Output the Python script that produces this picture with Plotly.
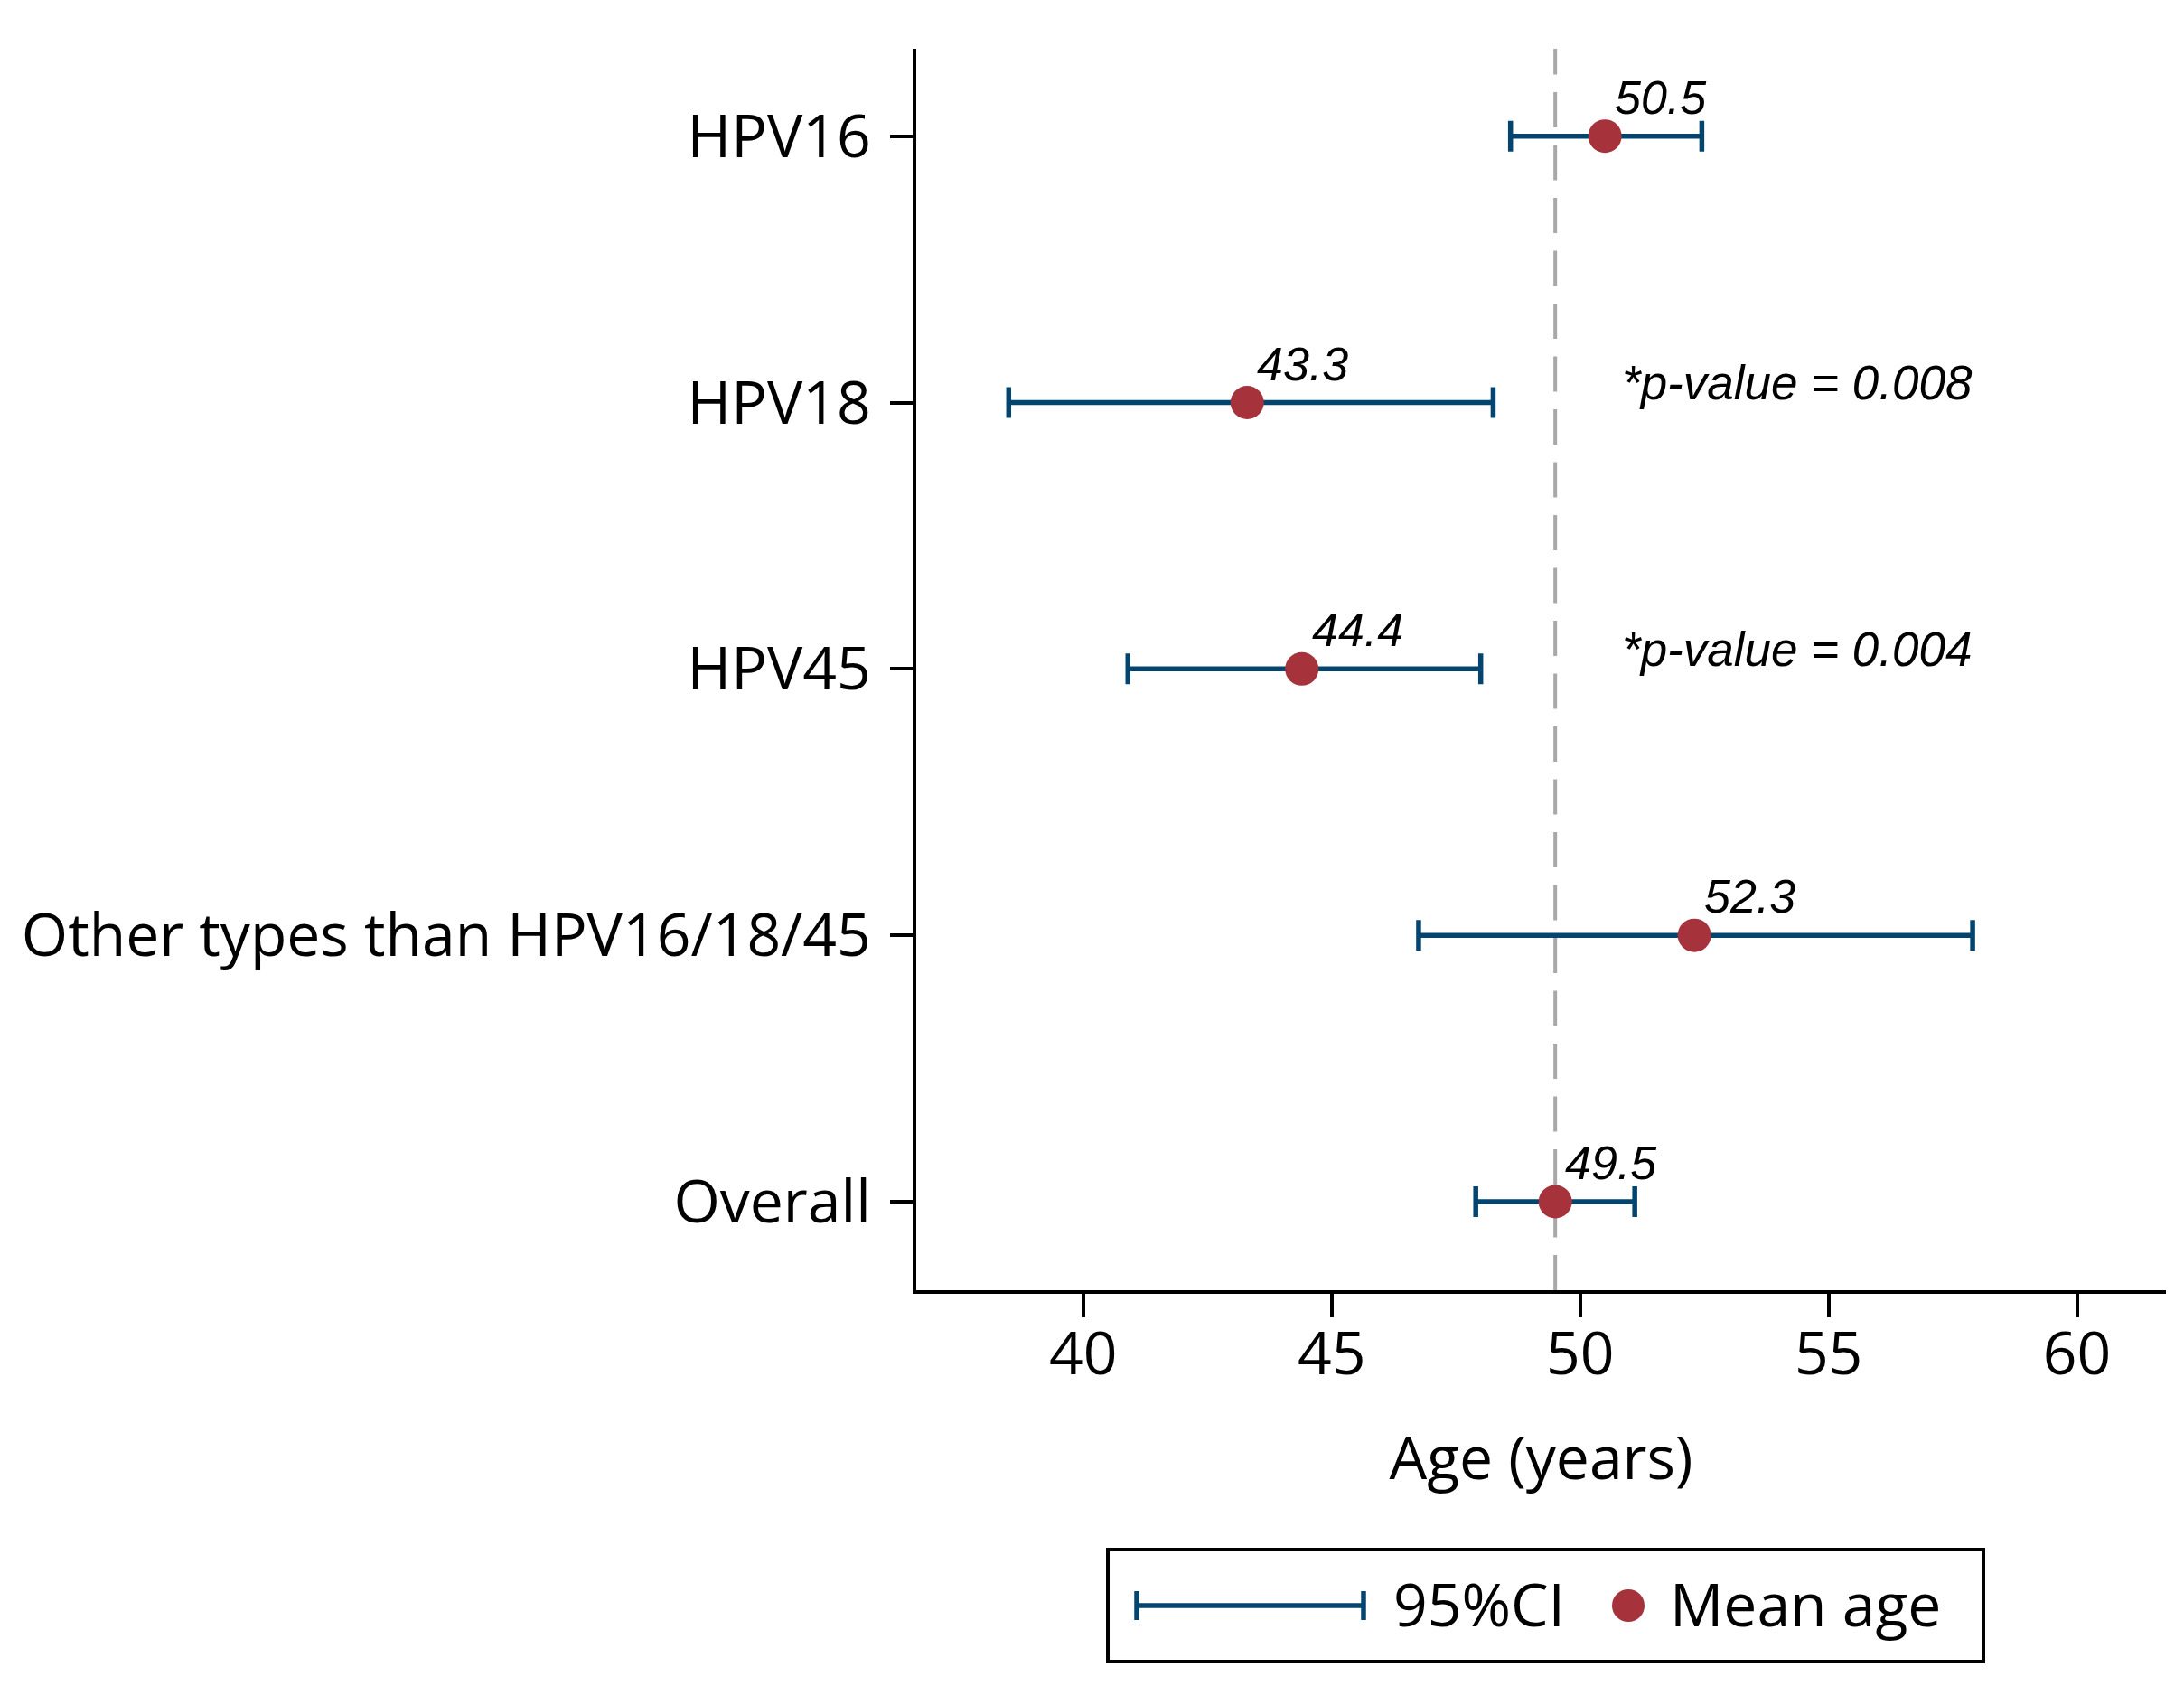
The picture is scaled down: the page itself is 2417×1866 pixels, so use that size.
import plotly.graph_objects as go

# ---------------- data ----------------
categories = ["HPV16", "HPV18", "HPV45", "Other types than HPV16/18/45", "Overall"]
mean_age = [50.5, 43.3, 44.4, 52.3, 49.5]
ci_low = [48.6, 38.5, 40.9, 46.75, 47.9]
ci_high = [52.45, 48.25, 48.0, 57.9, 51.1]
pvalue_labels = ["", "*p-value = 0.008", "*p-value = 0.004", "", ""]
x_ticks = [40, 45, 50, 55, 60]
legend_labels = ["95%CI", "Mean age"]
axis_title = "Age (years)"
overall_ref = mean_age[-1]

# ---------------- style ----------------
W, H = 2417, 1866
ML, MR, MT, MB = 1006, 28, 46, 446
BLUE = "#03456f"
RED = "#a6323b"
GREY = "#a8a8a8"
SANS = "Open Sans, Noto Sans, sans-serif"
ITAL = "Liberation Sans, Arial, sans-serif"

pw = W - ML - MR
ph = H - MT - MB


def px_x(p):
    return (p - ML) / pw


def px_y(p):
    return (H - MB - p) / ph


fig = go.Figure()

# CI bars
fig.add_trace(go.Scatter(
    x=mean_age, y=categories, mode="markers",
    marker=dict(size=2, color="rgba(0,0,0,0)"),
    error_x=dict(type="data", symmetric=False,
                 array=[h - m for h, m in zip(ci_high, mean_age)],
                 arrayminus=[m - l for m, l in zip(mean_age, ci_low)],
                 color=BLUE, thickness=5.5, width=17),
    hoverinfo="skip", showlegend=False,
))
# mean markers
fig.add_trace(go.Scatter(
    x=mean_age, y=categories, mode="markers",
    marker=dict(size=37, color=RED, line=dict(width=0)),
    showlegend=False,
))

annotations = []
for cat, m in zip(categories, mean_age):
    annotations.append(dict(
        x=m, y=cat, xref="x", yref="y", text=f"<i>{m:.1f}</i>",
        showarrow=False, xanchor="left", yanchor="middle",
        xshift=9, yshift=43, font=dict(family=ITAL, size=52, color="black"),
    ))
for cat, lab in zip(categories, pvalue_labels):
    if lab:
        annotations.append(dict(
            x=50.8, y=cat, xref="x", yref="y", text=f"<i>{lab}</i>",
            showarrow=False, xanchor="left", yanchor="middle",
            yshift=22, font=dict(family=ITAL, size=53, color="black"),
        ))

# manual legend texts
annotations.append(dict(x=px_x(1532), y=px_y(1766), xref="paper", yref="paper",
                        text=legend_labels[0], showarrow=False, xanchor="left",
                        yanchor="middle", font=dict(family=SANS, size=66, color="black")))
annotations.append(dict(x=px_x(1838), y=px_y(1766), xref="paper", yref="paper",
                        text=legend_labels[1], showarrow=False, xanchor="left",
                        yanchor="middle", font=dict(family=SANS, size=66, color="black")))

shapes = [
    # reference dashed line at overall mean
    dict(type="line", xref="x", yref="paper", x0=overall_ref, x1=overall_ref,
         y0=0, y1=1, line=dict(color=GREY, width=4, dash="39px,19.5px"), layer="below"),
    # legend box
    dict(type="rect", xref="paper", yref="paper",
         x0=px_x(1218), x1=px_x(2187), y0=px_y(1831), y1=px_y(1707),
         line=dict(color="black", width=4), fillcolor="white"),
    # legend CI symbol
    dict(type="line", xref="paper", yref="paper",
         x0=px_x(1249), x1=px_x(1502), y0=px_y(1769), y1=px_y(1769),
         line=dict(color=BLUE, width=5.5)),
    dict(type="line", xref="paper", yref="paper",
         x0=px_x(1250), x1=px_x(1250), y0=px_y(1753), y1=px_y(1785),
         line=dict(color=BLUE, width=5.5)),
    dict(type="line", xref="paper", yref="paper",
         x0=px_x(1501), x1=px_x(1501), y0=px_y(1753), y1=px_y(1785),
         line=dict(color=BLUE, width=5.5)),
    # legend marker
    dict(type="circle", xref="paper", yref="paper",
         xsizemode="pixel", ysizemode="pixel",
         xanchor=px_x(1794), yanchor=px_y(1769),
         x0=-18, x1=18, y0=-18, y1=18,
         fillcolor=RED, line=dict(width=0)),
]

fig.update_layout(
    width=W, height=H, autosize=False,
    margin=dict(l=ML, r=MR, t=MT, b=MB, pad=0),
    paper_bgcolor="white", plot_bgcolor="white",
    showlegend=False,
    font=dict(family=SANS, color="black"),
    annotations=annotations, shapes=shapes,
    xaxis=dict(
        range=[36.64, 61.79], tickmode="array", tickvals=x_ticks,
        ticktext=[str(t) for t in x_ticks],
        showline=True, linewidth=4, linecolor="black",
        ticks="outside", ticklen=26, tickwidth=4, tickcolor="black",
        showgrid=False, zeroline=False,
        tickfont=dict(family=SANS, size=66, color="black"),
        ticklabelstandoff=-16,
        title=dict(text=axis_title, font=dict(family=SANS, size=66, color="black"),
                   standoff=53),
    ),
    yaxis=dict(
        type="category", categoryorder="array", categoryarray=categories,
        range=[len(categories) - 1 + 0.3325, -0.328],
        showline=True, linewidth=4, linecolor="black",
        ticks="outside", ticklen=25, tickwidth=4, tickcolor="black",
        showgrid=False, zeroline=False,
        tickfont=dict(family=SANS, size=66, color="black"),
        ticklabelstandoff=8,
    ),
)

fig.write_html("out.html")
